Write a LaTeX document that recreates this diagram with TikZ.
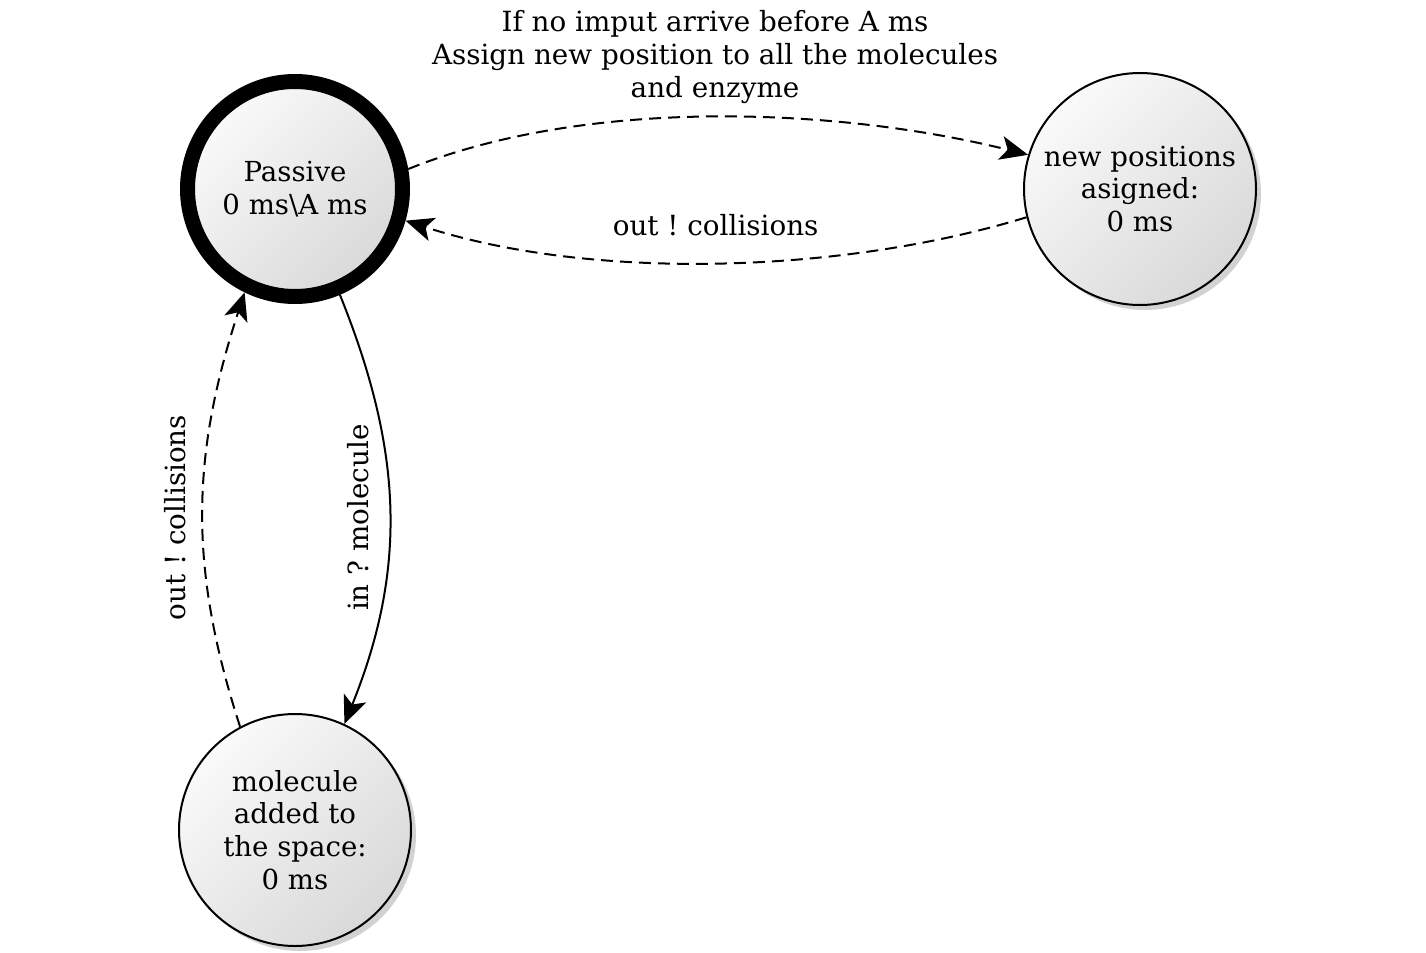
\documentclass[tikz,border=0pt]{standalone}
\usepackage{fontspec}
\setmainfont{DejaVu Serif}
\usetikzlibrary{arrows.meta,shadows}
\frenchspacing
\tikzset{
  state/.style={circle, draw=black, line width=1pt, inner sep=0pt, align=center,
    minimum size=116pt,
    top color=gray!4, bottom color=gray!30, shading angle=45,
    drop shadow={shadow xshift=2.5pt, shadow yshift=-2.5pt, opacity=0.25, fill=black!70},
    font=\fontsize{13.8}{16.3}\selectfont},
  initstate/.style={state, line width=7.5pt, minimum size=107.5pt},
  trans/.style={line width=1pt, -{Stealth[length=14pt, width=12pt, inset=3.5pt]}},
  dashtrans/.style={trans, dash pattern=on 6pt off 3.5pt},
  lbl/.style={font=\fontsize{13.9}{16.6}\selectfont, align=center}
}
\begin{document}
\begin{tikzpicture}[x=0.5pt,y=-0.5pt]
\useasboundingbox (0,0) rectangle (1426,953);
\node[initstate] (P) at (295,189) {Passive\\0 ms\textbackslash A ms};
\node[state] (N) at (1140,189) {new positions\\asigned:\\0 ms};
\node[state] (M) at (295,830) {molecule\\added to\\the space:\\0 ms};

\draw[dashtrans] (P.10) to[out=22, in=166, looseness=0.8]
  node[lbl, midway, anchor=south, inner sep=6pt]
  {If no imput arrive before A ms\\Assign new position to all the molecules\\and enzyme} (N.163);
\draw[dashtrans] (N.194) to[out=197, in=342, looseness=0.8]
  node[lbl, midway, anchor=south, inner sep=13pt] {out ! collisions} (P.-16);
\draw[trans] (P.-67) to[out=-68, in=68, looseness=1]
  node[lbl, pos=0.52, rotate=90, anchor=south, inner sep=10pt] {in ? molecule} (M.65);
\draw[dashtrans] (M.118) to[out=108, in=252, looseness=1]
  node[lbl, pos=0.48, rotate=90, anchor=south, inner sep=8pt] {out ! collisions} (P.244);
\end{tikzpicture}
\end{document}
